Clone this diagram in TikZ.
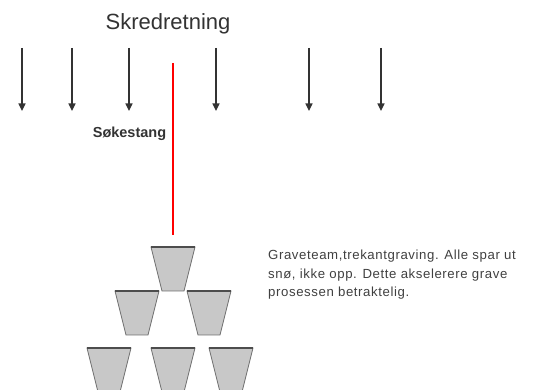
\documentclass[tikz,border=0pt]{standalone}
\usepackage{fontspec}
\setmainfont{Liberation Sans}
\newfontfamily\descfont[LetterSpace=4.5]{Liberation Sans}
\usetikzlibrary{arrows.meta}
\definecolor{txt}{HTML}{333333}
\definecolor{desctxt}{HTML}{404040}
\definecolor{cupfill}{HTML}{C8C8C8}
\definecolor{cupedge}{HTML}{6E6E6E}
\tikzset{
  flow/.style={draw=txt, line width=1.3pt, -{Triangle[width=7pt,length=7.5pt]}},
  probe/.style={draw=red, line width=1.4pt},
  cup/.style={fill=cupfill, draw=cupedge, line width=0.8pt, line join=miter},
  cuptop/.style={draw=cupedge!70!black, line width=1.2pt}
}
\begin{document}
\begin{tikzpicture}[x=1pt,y=-1pt]
\useasboundingbox (0,0) rectangle (544,390);
\begin{scope}
\clip (0,0) rectangle (544,390);
% title
\node[text=txt, font=\fontsize{22}{26}\selectfont, inner sep=0pt] (title) at (168,24) {Skredretning};
% flow arrows
\foreach \i/\x in {1/22,2/72,3/129,4/216,5/309,6/381}{
  \coordinate (s\i) at (\x,48);
  \coordinate (e\i) at (\x,111);
  \draw[flow] (s\i) -- (e\i);
}
% probe
\coordinate (ptop) at (173,63);
\coordinate (pbot) at (173,235);
\draw[probe] (ptop) -- (pbot);
\node[text=txt, font=\bfseries\fontsize{14.5}{17}\selectfont, inner sep=0pt] (probelabel) at (129.5,134) {Søkestang};
% cups
\foreach \cx/\ty in {173/247, 137/291, 209/291, 109/348, 173/348, 231/348}{
  \draw[cup] (\cx-22,\ty) -- (\cx+22,\ty) -- (\cx+11,\ty+44) -- (\cx-11,\ty+44) -- cycle;
  \draw[cuptop] (\cx-22,\ty) -- (\cx+22,\ty);
}
% description
\node[text=desctxt, font=\descfont\fontsize{13.2}{18.5}\selectfont, anchor=north west, align=left, inner sep=0pt] (desc) at (268,250)
  {Graveteam,trekantgraving. Alle spar ut\\snø, ikke opp. Dette akselerere grave\\prosessen betraktelig.};
\end{scope}
\end{tikzpicture}
\end{document}
